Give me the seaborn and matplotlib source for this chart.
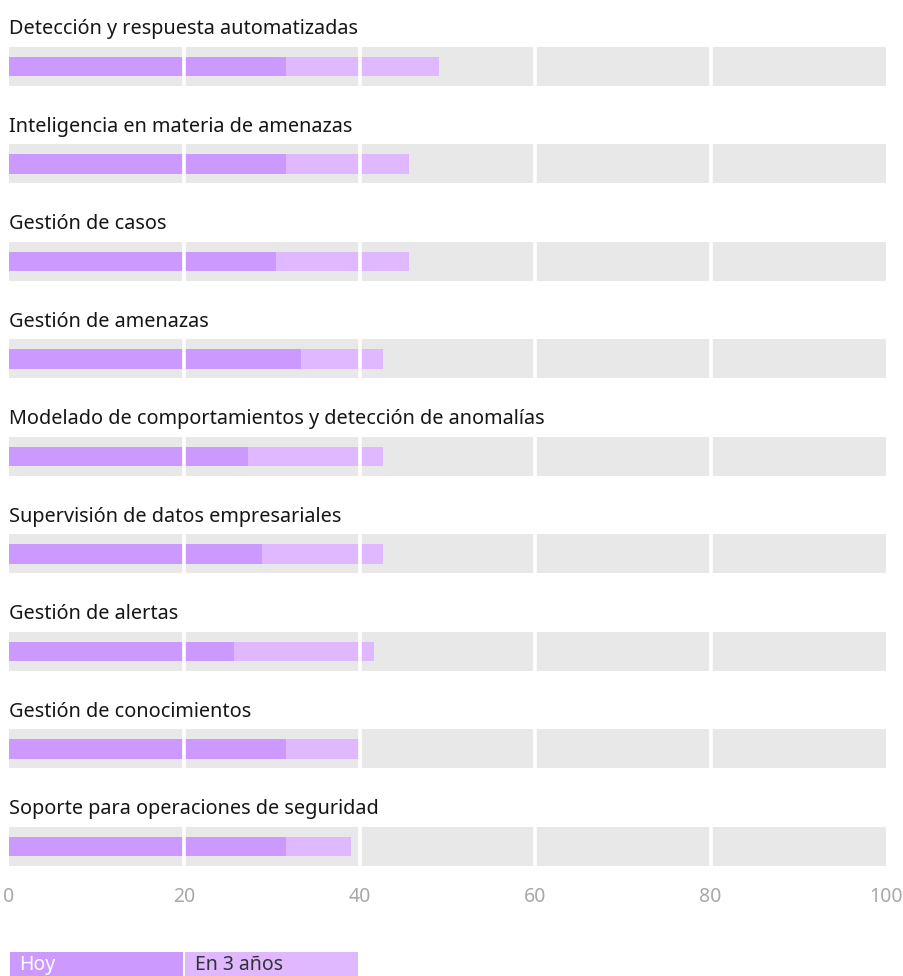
import matplotlib
matplotlib.use("Agg")
import matplotlib.pyplot as plt
import matplotlib.transforms as mtransforms
from matplotlib.patches import Rectangle
import seaborn as sns
import pandas as pd

categories = [
    "Detección y respuesta automatizadas",
    "Inteligencia en materia de amenazas",
    "Gestión de casos",
    "Gestión de amenazas",
    "Modelado de comportamientos y detección de anomalías",
    "Supervisión de datos empresariales",
    "Gestión de alertas",
    "Gestión de conocimientos",
    "Soporte para operaciones de seguridad",
]
hoy = [31.6, 31.6, 30.4, 33.3, 27.3, 28.9, 25.7, 31.6, 31.6]
en_3_anos = [49.0, 45.6, 45.6, 42.6, 42.6, 42.6, 41.6, 39.9, 39.0]
full_scale = [100] * len(categories)
ticks = [0, 20, 40, 60, 80, 100]
legend_labels = ["Hoy", "En 3 años"]

C_HOY = "#cc99ff"
C_FUT = "#dfb8ff"
C_BG = "#e8e8e8"

sns.set_theme(style="white")
plt.rcParams["font.family"] = ["Noto Sans", "DejaVu Sans"]

df = pd.DataFrame({"cat": categories, "hoy": hoy, "fut": en_3_anos, "bg": full_scale})

W, H = 904, 976
fig = plt.figure(figsize=(W / 100, H / 100), dpi=100)
left_px, right_px = 9, 886
bottom_px = 866
ax = fig.add_axes([left_px / W, 1 - bottom_px / H, (right_px - left_px) / W, bottom_px / H])

common = dict(orient="h", ax=ax, saturation=1, linewidth=0, edgecolor="none")
sns.barplot(data=df, y="cat", x="bg", color=C_BG, width=0.4, zorder=1, **common)
sns.barplot(data=df, y="cat", x="fut", color=C_FUT, width=0.205, zorder=2, **common)
sns.barplot(data=df, y="cat", x="hoy", color=C_HOY, width=0.205, zorder=3, **common)

row_px = 97.5
first_center_px = 66.5
ax.set_xlim(0, 100)
ax.set_ylim(bottom_px / row_px - first_center_px / row_px, -first_center_px / row_px)

for i in range(len(categories)):
    for t in ticks[1:-1]:
        ax.plot([t, t], [i - 0.2, i + 0.2], color="white", lw=2.6, zorder=4,
                solid_capstyle="butt")
    ax.text(0, i - 0.38, categories[i], ha="left", va="center", fontsize=14.3,
            color="#161616", zorder=5)

ax.set_yticks([])
ax.set_ylabel("")
ax.set_xlabel("")
ax.set_xticks(ticks)
ax.set_xticklabels([str(t) for t in ticks], fontsize=14, color="#a8a8a8",
                   fontweight="light")
ax.tick_params(axis="x", length=0, pad=15)
for s in ax.spines.values():
    s.set_visible(False)

# legend as boxes under the axis
trans = mtransforms.blended_transform_factory(ax.transData, fig.transFigure)
box_y0 = 1 - 976 / H
box_h = (976 - 952) / H
for k, (lab, col, tc) in enumerate(zip(legend_labels, [C_HOY, C_FUT], ["white", "#333333"])):
    x0 = k * 20 + 0.1
    rect = Rectangle((x0, box_y0), 19.7, box_h, transform=trans, facecolor=col,
                     edgecolor="none", clip_on=False, zorder=6)
    ax.add_patch(rect)
    ax.text(x0 + 1.1, box_y0 + box_h * 0.45, lab, transform=trans, ha="left",
            va="center", fontsize=14, color=tc, fontweight="light", clip_on=False,
            zorder=7)

fig.savefig("out.png", dpi=100)
